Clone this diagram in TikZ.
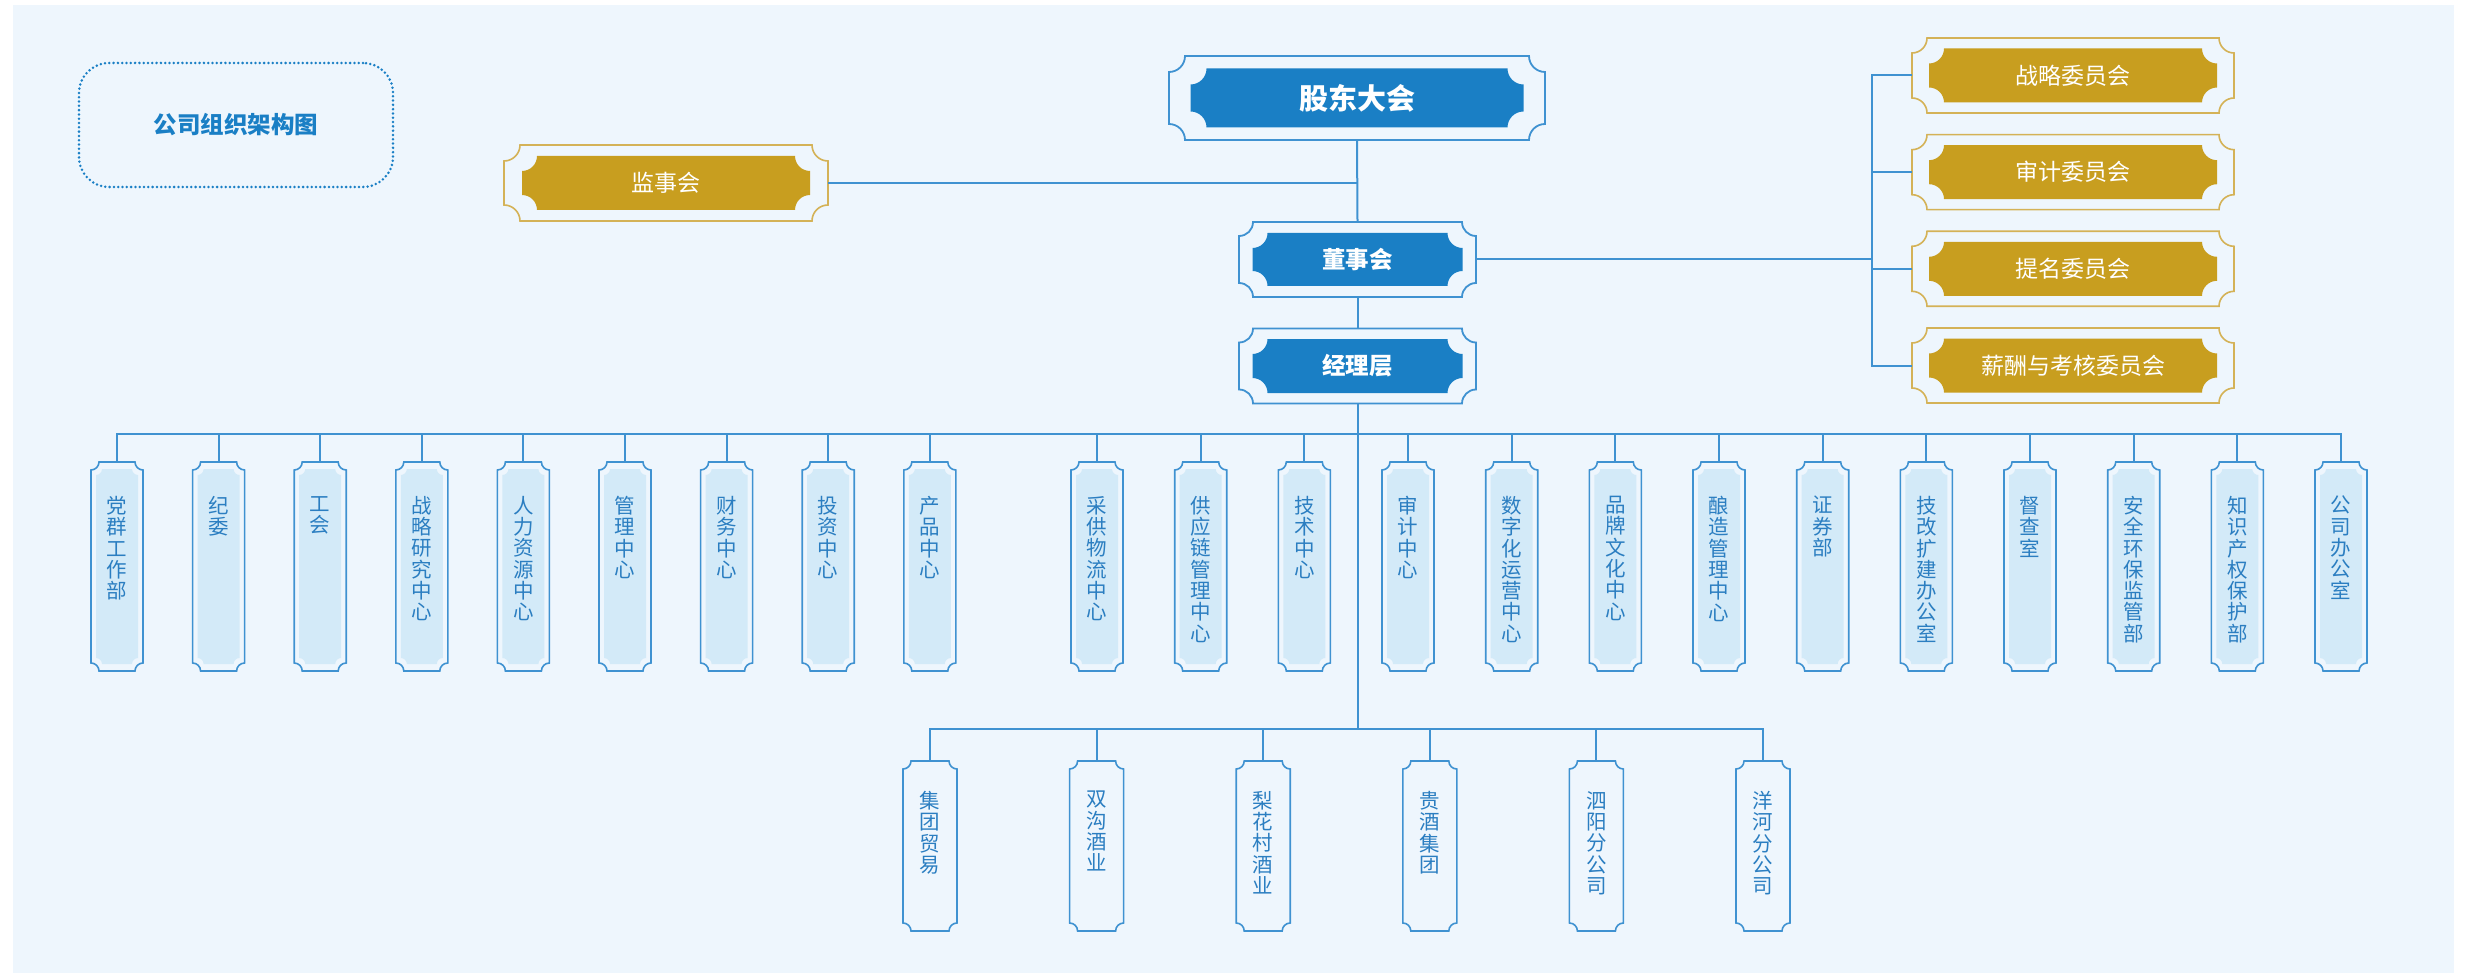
\documentclass[tikz,border=0pt]{standalone}
\usepackage{fontspec}
\setmainfont{Noto Sans CJK SC}
\definecolor{pagebg}{HTML}{EEF6FD}
\definecolor{lineblue}{HTML}{3F92D1}
\definecolor{darkblue}{HTML}{1A7FC5}
\definecolor{gold}{HTML}{C89E1F}
\definecolor{goldedge}{HTML}{D4B257}
\definecolor{lightfill}{HTML}{D3EAF8}
\definecolor{vtextc}{HTML}{2B7EC1}
% ticket shape: cx cy halfwidth halfheight cornerradius
\newcommand\tick[5]{({#1-#3+#5},{#2-#4}) -- ({#1+#3-#5},{#2-#4})
 .. controls ({#1+#3-#5},{#2-#4+0.552*#5}) and ({#1+#3-0.552*#5},{#2-#4+#5}) .. ({#1+#3},{#2-#4+#5})
 -- ({#1+#3},{#2+#4-#5})
 .. controls ({#1+#3-0.552*#5},{#2+#4-#5}) and ({#1+#3-#5},{#2+#4-0.552*#5}) .. ({#1+#3-#5},{#2+#4})
 -- ({#1-#3+#5},{#2+#4})
 .. controls ({#1-#3+#5},{#2+#4-0.552*#5}) and ({#1-#3+0.552*#5},{#2+#4-#5}) .. ({#1-#3},{#2+#4-#5})
 -- ({#1-#3},{#2-#4+#5})
 .. controls ({#1-#3+0.552*#5},{#2-#4+#5}) and ({#1-#3+#5},{#2-#4+0.552*#5}) .. ({#1-#3+#5},{#2-#4}) -- cycle}
\tikzset{
 conn/.style={draw=lineblue, line width=2pt},
 blueout/.style={draw=lineblue, line width=1.8pt, fill=pagebg},
 bluein/.style={fill=darkblue},
 goldout/.style={draw=goldedge, line width=1.6pt, fill=pagebg},
 goldin/.style={fill=gold},
 vout/.style={draw=lineblue, line width=1.6pt, fill=pagebg},
 vin/.style={fill=lightfill},
 holder/.style={inner sep=0pt, outer sep=0pt, draw=none},
 vtext/.style={inner sep=0pt, anchor=north, align=center, text=vtextc, font=\fontsize{20.5}{21.3}\selectfont},
}
\begin{document}
\begin{tikzpicture}[x=1pt,y=-1pt]
\useasboundingbox (0,0) rectangle (2468,976);
\fill[white] (0,0) rectangle (2468,976);
\fill[pagebg] (13,5) rectangle (2454,973);

% title
\node[holder, draw=darkblue, line width=2.8pt, dash pattern=on 0pt off 4.3pt, line cap=round,
 rounded corners=30pt, minimum width=314pt, minimum height=124pt,
 text=darkblue, font=\bfseries\fontsize{23.5}{24}\selectfont] (title) at (236,125) {公司组织架构图};

% main blue boxes
\draw[blueout] \tick{1357}{98}{188}{42}{16};
\fill[bluein] \tick{1357}{98}{166.5}{29.5}{16};
\node[holder, minimum width=376pt, minimum height=84pt, text=white, font=\bfseries\fontsize{29}{29}\selectfont] (gd) at (1357,98) {股东大会};

\draw[blueout] \tick{1357.5}{259.5}{118.5}{37.5}{14};
\fill[bluein] \tick{1357.5}{259.5}{105}{26.5}{15};
\node[holder, minimum width=237pt, minimum height=75pt, text=white, font=\bfseries\fontsize{23.5}{24}\selectfont] (dsh) at (1357.5,259.5) {董事会};

\draw[blueout] \tick{1357.5}{366}{118.5}{37.5}{14};
\fill[bluein] \tick{1357.5}{366}{105}{27}{15};
\node[holder, minimum width=237pt, minimum height=75pt, text=white, font=\bfseries\fontsize{23.5}{24}\selectfont] (jlc) at (1357.5,366) {经理层};

% supervisory board
\draw[goldout] \tick{666}{183}{162}{38}{16};
\fill[goldin] \tick{666}{183}{144}{27}{15};
\node[holder, minimum width=324pt, minimum height=76pt, text=white, font=\fontsize{23}{24}\selectfont] (jsh) at (666,183) {监事会};

% committees
\foreach \n/\y/\t in {cm1/75.5/战略委员会, cm2/172.2/审计委员会, cm3/268.8/提名委员会, cm4/365.5/薪酬与考核委员会}{
 \draw[goldout] \tick{2073}{\y}{161}{37.5}{15};
 \fill[goldin] \tick{2073}{\y}{144}{27}{15};
 \node[holder, minimum width=322pt, minimum height=75pt, text=white, font=\fontsize{23}{24}\selectfont] (\n) at (2073,\y) {\t};
}

% departments
\foreach \n/\x/\t in {
 d1/117/党\\群\\工\\作\\部, d2/218.6/纪\\委, d3/320.2/工\\会, d4/421.8/战\\略\\研\\究\\中\\心,
 d5/523.4/人\\力\\资\\源\\中\\心, d6/625/管\\理\\中\\心, d7/726.6/财\\务\\中\\心, d8/828.2/投\\资\\中\\心,
 d9/929.8/产\\品\\中\\心, d10/1097/采\\供\\物\\流\\中\\心, d11/1200.7/供\\应\\链\\管\\理\\中\\心,
 d12/1304.3/技\\术\\中\\心, d13/1408/审\\计\\中\\心, d14/1511.7/数\\字\\化\\运\\营\\中\\心,
 d15/1615.3/品\\牌\\文\\化\\中\\心, d16/1719/酿\\造\\管\\理\\中\\心, d17/1822.7/证\\券\\部,
 d18/1926.3/技\\改\\扩\\建\\办\\公\\室, d19/2030/督\\查\\室, d20/2133.7/安\\全\\环\\保\\监\\管\\部,
 d21/2237.3/知\\识\\产\\权\\保\\护\\部, d22/2341/公\\司\\办\\公\\室}{
 \draw[vout] \tick{\x}{566.5}{26}{104.5}{8};
 \fill[vin] \tick{\x}{566.5}{21}{97.5}{6};
 \node[holder, minimum width=52pt, minimum height=209pt] (\n) at (\x,566.5) {};
 \node[vtext] (\n t) at (\x,496) {\t};
}

% subsidiaries
\foreach \n/\x/\t in {s1/930/集\\团\\贸\\易, s2/1096.6/双\\沟\\酒\\业, s3/1263.2/梨\\花\\村\\酒\\业,
 s4/1429.8/贵\\酒\\集\\团, s5/1596.4/泗\\阳\\分\\公\\司, s6/1763/洋\\河\\分\\公\\司}{
 \draw[vout] \tick{\x}{846}{27}{85}{8};
 \node[holder, minimum width=54pt, minimum height=170pt] (\n) at (\x,846) {};
 \node[vtext] (\n t) at (\x,791) {\t};
}

% connectors
\coordinate (ub) at (1357.5,434);
\coordinate (lb) at (1357.5,729);
\coordinate (cb) at (1872,259.5);
\draw[conn] (gd.south) -- (dsh.north);
\draw[conn] (jsh.east) -- (jsh.east -| gd.south);
\draw[conn] (dsh.south) -- (jlc.north);
\draw[conn] (dsh.east) -- (cb);
\draw[conn] (cm1.west) -- (cm1.west -| cb) -- (cm4.west -| cb) -- (cm4.west);
\draw[conn] (cm2.west) -- (cm2.west -| cb);
\draw[conn] (cm3.west) -- (cm3.west -| cb);
\draw[conn] (jlc.south) -- (lb);
\draw[conn] (d1.north) -- (d1.north |- ub) -- (d22.north |- ub) -- (d22.north);
\foreach \n in {d2,d3,d4,d5,d6,d7,d8,d9,d10,d11,d12,d13,d14,d15,d16,d17,d18,d19,d20,d21}{
 \draw[conn] (\n.north) -- (\n.north |- ub);
}
\draw[conn] (s1.north) -- (s1.north |- lb) -- (s6.north |- lb) -- (s6.north);
\foreach \n in {s2,s3,s4,s5}{
 \draw[conn] (\n.north) -- (\n.north |- lb);
}
\end{tikzpicture}
\end{document}
